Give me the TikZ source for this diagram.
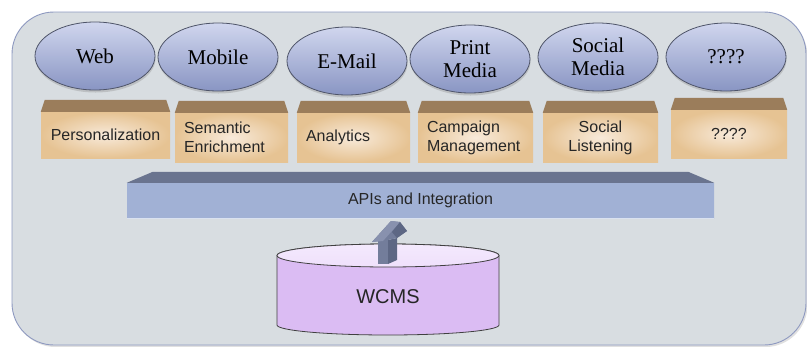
\documentclass[tikz,border=0pt]{standalone}
\usepackage{fontspec}
\setmainfont{Liberation Serif}
\setsansfont{Liberation Sans}
\usetikzlibrary{shapes.geometric,shadows}
\definecolor{panelfill}{HTML}{D8DDE1}
\definecolor{paneldraw}{HTML}{8E99C0}
\definecolor{elltop}{HTML}{D0D6EE}
\definecolor{ellbot}{HTML}{8995C3}
\definecolor{elldraw}{HTML}{4E5468}
\definecolor{bandbrown}{HTML}{9B7D5B}
\definecolor{bodyout}{HTML}{E6C393}
\definecolor{bodyin}{HTML}{F8EADA}
\definecolor{barband}{HTML}{6A748F}
\definecolor{barside}{HTML}{A1B1D5}
\definecolor{barmid}{HTML}{C2CFE6}
\definecolor{cylside}{HTML}{DBBCF3}
\definecolor{cylmid}{HTML}{EDDCFB}
\definecolor{cyltop}{HTML}{EFE0FC}
\definecolor{arrfront}{HTML}{737D9B}
\definecolor{arrside}{HTML}{5D6784}
\definecolor{arrtop}{HTML}{8891AE}
\newcommand{\bandon}[2]{\fill[#2] (#1.north west) -- ([xshift=4pt,yshift=12pt]#1.north west) -- ([xshift=-4pt,yshift=12pt]#1.north east) -- (#1.north east) -- cycle;}
\begin{document}
\begin{tikzpicture}[x=1pt,y=1pt,
  channel/.style={ellipse, minimum width=120pt, minimum height=68pt, inner sep=0pt,
    draw=elldraw, line width=0.8pt, top color=elltop, bottom color=ellbot,
    drop shadow={opacity=0.3, shadow xshift=0.5pt, shadow yshift=-2.5pt},
    font=\fontsize{21}{23}\selectfont, align=center},
  boxbody/.style={rectangle, inner ysep=0pt, inner xsep=9pt, shading=radial,
    inner color=bodyin, outer color=bodyout,
    font=\sffamily\fontsize{16}{19}\selectfont, text=black!85},
  barbody/.style={rectangle, inner sep=0pt, left color=barside, middle color=barmid, right color=barside,
    font=\sffamily\fontsize{16}{19}\selectfont, text=black!85}
]
\useasboundingbox (0,0) rectangle (807,-346);
\begin{scope}
\clip (0,0) rectangle (807,-346);
\fill[black, opacity=0.12, rounded corners=42pt] (13.5,-14) rectangle (807.5,-347);
\draw[fill=panelfill, draw=paneldraw, line width=0.9pt, rounded corners=42pt] (12,-12) rectangle (806,-345);
\end{scope}

% channels
\node[channel] (web) at (95,-56) {Web};
\node[channel] (mobile) at (218,-57) {Mobile};
\node[channel] (email) at (347,-61) {E-Mail};
\node[channel] (print) at (470,-59) {Print\\Media};
\node[channel] (social) at (598,-57) {Social\\Media};
\node[channel] (other) at (726,-57) {????};

% service boxes
\node[boxbody, minimum width=129pt, minimum height=46pt, text width=111pt, align=center] (b1) at (105.5,-135) {Personalization};
\node[boxbody, minimum width=113pt, minimum height=49pt, text width=95pt, align=left] (b2) at (231.5,-137.5) {Semantic\\Enrichment};
\node[boxbody, minimum width=113pt, minimum height=49pt, text width=95pt, align=left] (b3) at (353.5,-137.5) {Analytics};
\node[boxbody, minimum width=115pt, minimum height=49pt, text width=97pt, align=left] (b4) at (475.5,-137.5) {Campaign\\Management};
\node[boxbody, minimum width=115pt, minimum height=49pt, text width=97pt, align=center] (b5) at (600.5,-137.5) {Social\\Listening};
\node[boxbody, minimum width=116pt, minimum height=48pt, text width=98pt, align=center] (b6) at (729,-134) {????};
\foreach \b in {b1,b2,b3,b4,b5,b6} {\bandon{\b}{bandbrown}}

% API bar
\node[barbody, minimum width=587pt, minimum height=35pt] (api) at (420.5,-200.5) {APIs and Integration};
\fill[barband] (api.north west) -- ([xshift=26pt,yshift=11pt]api.north west) -- ([xshift=-26pt,yshift=11pt]api.north east) -- (api.north east) -- cycle;
\draw[barmid!60!white, line width=0.6pt] (api.south west) -- (api.south east);

% WCMS cylinder
\coordinate (ctop) at (388,-255.5);
\draw[black!75, line width=0.8pt, left color=cylside, middle color=cylmid, right color=cylside]
  (277,-255.5) -- (277,-325) arc[start angle=180, end angle=360, x radius=111pt, y radius=10pt]
  -- (499,-255.5) arc[start angle=0, end angle=180, x radius=111pt, y radius=11.5pt] -- cycle;
\draw[black!75, line width=0.8pt, top color=cyltop!70!white, bottom color=cyltop] (ctop) ellipse[x radius=111pt, y radius=11.5pt];
\node[font=\sffamily\fontsize{20}{24}\selectfont, text=black!85] (wcms) at (388,-297) {WCMS};

% block arrow from WCMS up to the API bar
\fill[arrside] (388,-264) -- (397,-260) -- (397,-238) -- (388,-240) -- cycle;
\fill[arrfront] (378,-264) rectangle (388,-240);
\fill[arrfront] (372,-242) -- (391,-221) -- (400,-222) -- (407,-231) -- (397,-238) -- (388,-240) -- cycle;
\fill[arrtop] (372,-242) -- (391,-221) -- (400,-222) -- (383,-241) -- cycle;
\fill[arrside] (400,-222) -- (407,-231) -- (397,-238) -- (392,-232) -- cycle;
\end{tikzpicture}
\end{document}
